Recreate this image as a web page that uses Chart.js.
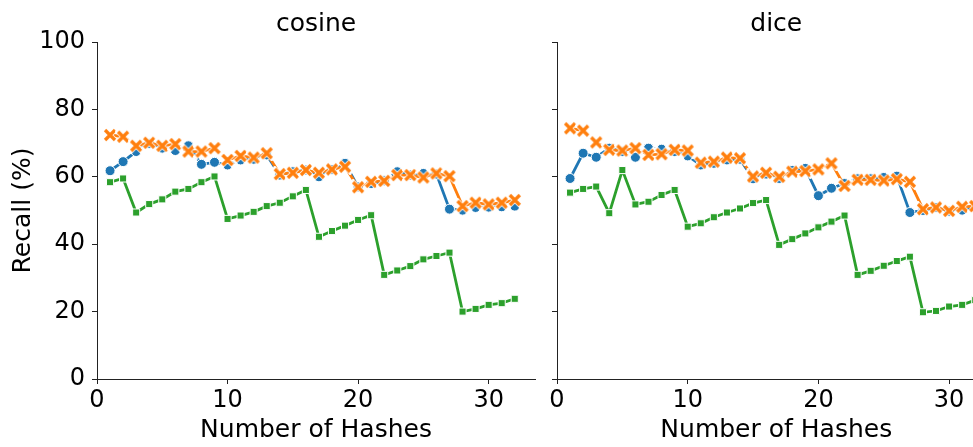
<!DOCTYPE html>
<html>
<head>
<meta charset="utf-8">
<script src="https://cdn.jsdelivr.net/npm/chart.js@4.4.0/dist/chart.umd.min.js"></script>
<style>
  html, body { margin: 0; padding: 0; background: #fff; overflow: hidden; }
  #wrap { position: relative; width: 973px; height: 447px; overflow: hidden; }
  canvas { position: absolute; top: 0; }
  #left { left: 0; }
  #right { left: 545px; }
</style>
</head>
<body>
<div id="wrap">
  <canvas id="left" width="545" height="447"></canvas>
  <canvas id="right" width="460" height="447"></canvas>
</div>
<script>
// número de hashes (eje x)
const hashCounts = [1, 2, 3, 4, 5, 6, 7, 8, 9, 10, 11, 12, 13, 14, 15, 16,
  17, 18, 19, 20, 21, 22, 23, 24, 25, 26, 27, 28, 29, 30, 31, 32];

const panelTitles = ["cosine", "dice"];
const xTicks = [0, 10, 20, 30];
const yTicks = [0, 20, 40, 60, 80, 100];

// cosine
const cosineBlue = [61.8, 64.5, 67.5, 69.9, 68.5, 67.8, 69.2, 63.7, 64.3, 63.5, 65.0, 65.2, 66.5, 60.5, 61.5, 62.0,
  60.0, 62.2, 64.0, 57.0, 58.0, 58.8, 61.5, 60.5, 61.0, 60.8, 50.4, 50.1, 50.9, 51.0, 51.1, 51.3];
const cosineOrange = [72.4, 71.9, 69.2, 70.1, 69.2, 69.7, 67.5, 67.5, 68.5, 65.0, 66.2, 65.7, 67.0, 60.8, 61.2, 62.0,
  61.2, 62.2, 63.0, 56.9, 58.5, 58.8, 60.5, 60.5, 59.8, 61.0, 60.2, 51.3, 52.3, 51.8, 52.3, 53.1];
const cosineGreen = [58.4, 59.5, 49.4, 51.9, 53.3, 55.6, 56.4, 58.4, 60.1, 47.5, 48.5, 49.6, 51.3, 52.3, 54.2, 56.1,
  42.2, 43.9, 45.5, 47.2, 48.6, 30.9, 32.2, 33.5, 35.5, 36.5, 37.5, 20.0, 20.8, 22.0, 22.5, 23.8];

// dice
const diceBlue = [59.5, 67.0, 65.8, 68.5, 67.5, 65.8, 68.5, 68.2, 67.5, 66.2, 63.5, 64.0, 65.0, 65.2, 59.4, 60.8,
  59.5, 61.9, 62.5, 54.4, 56.6, 58.0, 59.4, 59.4, 59.8, 60.2, 49.4, 50.0, 50.9, 49.8, 50.1, 51.0];
const diceOrange = [74.4, 73.7, 70.2, 68.0, 67.8, 68.5, 66.5, 66.7, 68.0, 67.8, 64.2, 64.5, 65.7, 65.5, 60.1, 61.2,
  60.0, 61.5, 61.7, 62.2, 64.0, 57.3, 59.1, 59.1, 58.9, 59.3, 58.5, 50.4, 50.9, 49.9, 51.1, 51.3];
const diceGreen = [55.3, 56.4, 57.1, 49.2, 62.0, 51.8, 52.6, 54.6, 56.1, 45.2, 46.2, 48.0, 49.4, 50.6, 52.2, 53.1,
  39.8, 41.5, 43.2, 45.0, 46.7, 48.5, 30.9, 32.1, 33.6, 35.0, 36.3, 19.8, 20.2, 21.5, 22.0, 23.4];

const AZUL = "#1f77b4";
const NARANJA = "#ff7f0e";
const VERDE = "#2ca02c";
const FUENTE = "'DejaVu Sans', sans-serif";

// marcador "X" relleno con borde blanco, como el de matplotlib
function marcadorX(color) {
  const c = document.createElement("canvas");
  c.width = c.height = 16;
  const g = c.getContext("2d");
  const trazo = (w, col, cap) => {
    g.strokeStyle = col;
    g.lineWidth = w;
    g.lineCap = cap;
    g.beginPath();
    g.moveTo(3, 3); g.lineTo(13, 13);
    g.moveTo(13, 3); g.lineTo(3, 13);
    g.stroke();
  };
  trazo(5, "#fff", "square");
  trazo(3.3, color, "butt");
  return c;
}
const equis = marcadorX(NARANJA);

const puntos = arr => hashCounts.map((x, i) => ({ x, y: arr[i] }));

// título centrado sobre el área del gráfico (no sobre el canvas)
const tituloPanel = {
  id: "tituloPanel",
  afterDraw(chart, args, opts) {
    const { ctx, chartArea } = chart;
    ctx.save();
    ctx.fillStyle = "#000";
    ctx.font = `25px ${FUENTE}`;
    ctx.textAlign = "center";
    ctx.textBaseline = "middle";
    ctx.fillText(opts.text, (chartArea.left + chartArea.right) / 2, 24);
    ctx.restore();
  }
};

function graficar(id, titulo, azul, naranja, verde, izquierda) {
  const ctx = document.getElementById(id).getContext("2d");
  const ejeColor = "#222";

  return new Chart(ctx, {
    type: "line",
    plugins: [tituloPanel],
    data: {
      datasets: [
        {
          label: "azul",
          data: puntos(azul),
          borderColor: AZUL,
          backgroundColor: AZUL,
          borderWidth: 2.8,
          pointStyle: "circle",
          pointRadius: 5,
          pointBorderColor: "#fff",
          pointBorderWidth: 1,
          pointBackgroundColor: AZUL,
          order: 3
        },
        {
          label: "naranja",
          data: puntos(naranja),
          borderColor: NARANJA,
          backgroundColor: NARANJA,
          borderWidth: 2.8,
          pointStyle: equis,
          pointRadius: 5,
          order: 2
        },
        {
          label: "verde",
          data: puntos(verde),
          borderColor: VERDE,
          backgroundColor: VERDE,
          borderWidth: 2.8,
          pointStyle: "rect",
          pointRadius: 5,
          pointBorderColor: "#fff",
          pointBorderWidth: 1,
          pointBackgroundColor: VERDE,
          order: 1
        }
      ]
    },
    options: {
      responsive: false,
      animation: false,
      layout: { padding: { left: 0, right: izquierda ? 10 : 9.5, top: 42, bottom: 0 } },
      plugins: {
        legend: { display: false },
        tooltip: { enabled: false },
        title: { display: false },
        tituloPanel: { text: titulo }
      },
      scales: {
        x: {
          type: "linear",
          min: 0,
          max: 33.55,
          afterFit: s => { s.height = 68; },
          afterBuildTicks: s => { s.ticks = xTicks.map(v => ({ value: v })); },
          ticks: {
            autoSkip: false,
            maxRotation: 0,
            includeBounds: false,
            color: "#000",
            padding: 2,
            font: { family: FUENTE, size: 24 }
          },
          grid: { drawOnChartArea: false, drawTicks: true, tickLength: 5, tickColor: ejeColor, tickWidth: 1 },
          border: { display: true, color: ejeColor, width: 1 },
          title: {
            display: true,
            text: "Number of Hashes",
            color: "#000",
            font: { family: FUENTE, size: 25 },
            padding: { top: 0, bottom: 2 }
          }
        },
        y: {
          min: 0,
          max: 100,
          afterFit: s => { s.width = izquierda ? 97 : 12; },
          afterBuildTicks: s => { s.ticks = yTicks.map(v => ({ value: v })); },
          ticks: {
            display: izquierda,
            color: "#000",
            padding: 7,
            font: { family: FUENTE, size: 24 }
          },
          grid: { drawOnChartArea: false, drawTicks: true, tickLength: 5, tickColor: ejeColor, tickWidth: 1 },
          border: { display: true, color: ejeColor, width: 1 },
          title: {
            display: izquierda,
            text: "Recall (%)",
            color: "#000",
            font: { family: FUENTE, size: 25 },
            padding: { top: 8.5, bottom: 0 }
          }
        }
      }
    }
  });
}

graficar("left", panelTitles[0], cosineBlue, cosineOrange, cosineGreen, true);
graficar("right", panelTitles[1], diceBlue, diceOrange, diceGreen, false);
</script>
</body>
</html>
